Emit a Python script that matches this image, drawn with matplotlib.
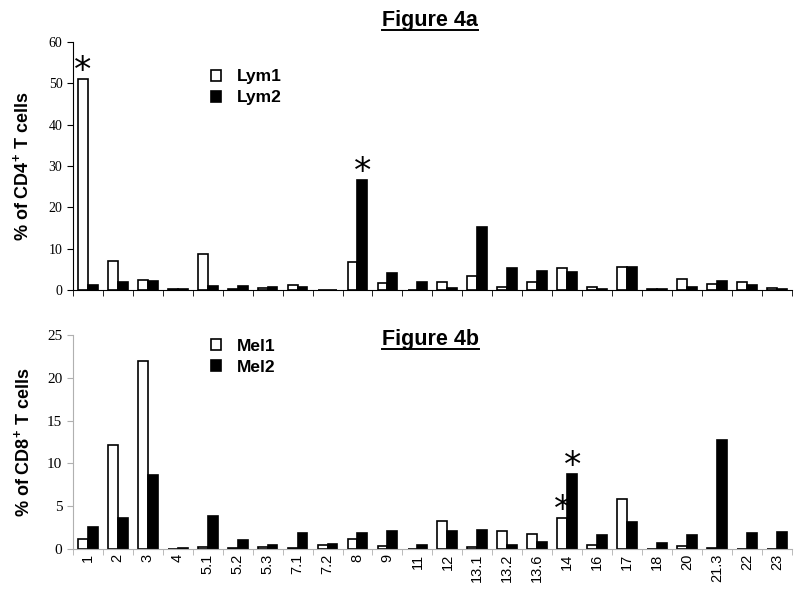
import matplotlib
matplotlib.use('Agg')
import matplotlib.pyplot as plt
import numpy as np
from matplotlib.lines import Line2D

plt.rcParams['font.family'] = ['Liberation Sans', 'DejaVu Sans']
plt.rcParams['mathtext.fontset'] = 'custom'
plt.rcParams['mathtext.rm'] = 'Liberation Sans:bold'
plt.rcParams['mathtext.bf'] = 'Liberation Sans:bold'

# DATA
regions = ['1', '2', '3', '4', '5.1', '5.2', '5.3', '7.1', '7.2', '8', '9', '11',
           '12', '13.1', '13.2', '13.6', '14', '16', '17', '18', '20', '21.3', '22', '23']

lym1 = [51.2, 7.1, 2.3, 0.2, 8.7, 0.3, 0.5, 1.3, 0.0, 6.7, 1.6, 0.0,
        1.8, 3.3, 0.8, 1.9, 5.4, 0.7, 5.6, 0.3, 2.7, 1.5, 1.9, 0.4]
lym2 = [1.2, 2.0, 2.1, 0.2, 0.9, 1.0, 0.8, 0.7, 0.0, 26.6, 4.2, 1.8,
        0.4, 15.2, 5.2, 4.6, 4.4, 0.2, 5.6, 0.3, 0.7, 2.2, 1.3, 0.3]

mel1 = [1.2, 12.2, 22.0, 0.0, 0.2, 0.1, 0.2, 0.1, 0.4, 1.1, 0.3, 0.0,
        3.3, 0.2, 2.1, 1.7, 3.6, 0.5, 5.8, 0.0, 0.3, 0.1, 0.0, 0.0]
mel2 = [2.5, 3.6, 8.6, 0.1, 3.8, 1.0, 0.5, 1.8, 0.6, 1.8, 2.1, 0.5,
        2.1, 2.2, 0.5, 0.8, 8.7, 1.6, 3.1, 0.7, 1.6, 12.7, 1.9, 2.0]

# significant bars (region, series)
stars_a = [('1', 0), ('8', 1)]
stars_b = [('14', 0), ('14', 1)]

x = np.arange(len(regions))
w = 0.33

fig = plt.figure(figsize=(8.0, 5.94), dpi=100)
ax1 = fig.add_axes([0.091, 0.512, 0.899, 0.417])
ax2 = fig.add_axes([0.091, 0.076, 0.899, 0.360])


def draw_panel(ax, s1, s2, names, stars, ymax, step, axcol, leg_y):
    ax.bar(x - w / 2, s1, w, color='white', edgecolor='black', linewidth=1.2, label=names[0])
    ax.bar(x + w / 2, s2, w, color='black', edgecolor='black', linewidth=1.2, label=names[1])
    for reg, k in stars:
        i = regions.index(reg)
        v = (s1 if k == 0 else s2)[i]
        ax.annotate('*', (i + (w / 2 if k else -w / 2), v), xytext=(0, -9),
                    textcoords='offset pixels', ha='center', va='bottom',
                    fontsize=25, family='DejaVu Sans')
    ax.set_xlim(-0.5, len(regions) - 0.5)
    ax.set_ylim(0, ymax)
    ax.set_yticks(np.arange(0, ymax + 1, step))
    for sp in ['top', 'right']:
        ax.spines[sp].set_visible(False)
    for sp in ['left', 'bottom']:
        ax.spines[sp].set_color(axcol)
    ax.set_xticks(x)
    ax.set_xticks(np.arange(-0.5, len(regions), 1.0), minor=True)
    ax.tick_params(axis='x', which='major', length=0)
    ax.tick_params(axis='x', which='minor', length=4, color=axcol)
    ax.tick_params(axis='y', length=4, color=axcol)
    for t in ax.get_yticklabels():
        t.set_family('Liberation Serif')
    ax.legend(loc='upper left', bbox_to_anchor=(0.175, leg_y), frameon=False,
              prop={'weight': 'bold', 'size': 12.5}, handlelength=0.6, handleheight=0.6,
              handletextpad=0.9, labelspacing=0.35, borderpad=0.2)


draw_panel(ax1, lym1, lym2, ['Lym1', 'Lym2'], stars_a, 60, 10, 'black', 0.94)
ax1.set_xticklabels([])
ax1.tick_params(axis='y', labelsize=10)
ax1.set_ylabel('% of CD4$^{+}$ T cells', fontsize=13, fontweight='bold', labelpad=12)

draw_panel(ax2, mel1, mel2, ['Mel1', 'Mel2'], stars_b, 25, 5, '#b0b0b0', 1.04)
ax2.set_xticklabels(regions, rotation=90, fontsize=10.5)
ax2.tick_params(axis='y', labelsize=11)
ax2.set_ylabel('% of CD8$^{+}$ T cells', fontsize=13, fontweight='bold', labelpad=10)

# titles with underline
t1 = fig.text(0.538, 0.965, 'Figure 4a', ha='center', va='center', fontsize=15.5, fontweight='bold')
t2 = fig.text(0.538, 0.428, 'Figure 4b', ha='center', va='center', fontsize=15.5, fontweight='bold')
fig.canvas.draw()
r = fig.canvas.get_renderer()
for t in [t1, t2]:
    bb = t.get_window_extent(r).transformed(fig.transFigure.inverted())
    fig.add_artist(Line2D([bb.x0, bb.x1], [bb.y0 + 0.002, bb.y0 + 0.002], color='black', lw=1.4,
                          transform=fig.transFigure))

fig.savefig('out.png', dpi=100)
